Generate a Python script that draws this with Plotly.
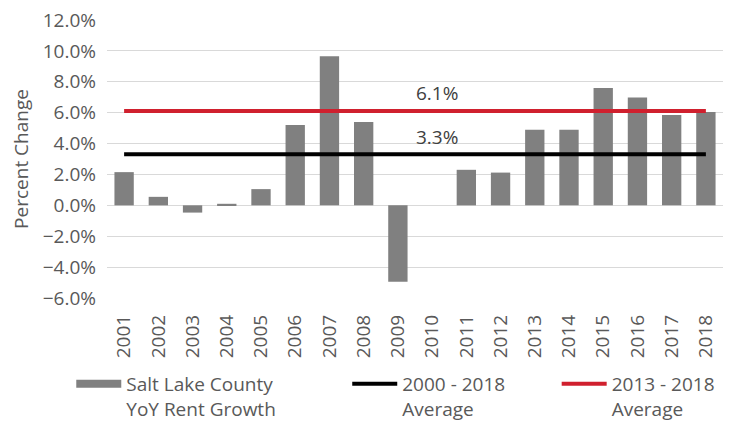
"""Salt Lake County year-over-year rent growth with two period averages."""

import plotly.graph_objects as go

YEARS = [str(y) for y in range(2001, 2019)]
RENT_GROWTH = [2.15, 0.55, -0.47, 0.1, 1.05, 5.2, 9.65, 5.4, -4.95, 0.0,
               2.3, 2.12, 4.9, 4.9, 7.6, 6.98, 5.85, 6.05]
AVG_2000_2018 = 3.3
AVG_2013_2018 = 6.1

BAR_COLOR = "#808080"
RED = "#d0202e"
TEXT = "#595959"
FONT = "Open Sans"

fig = go.Figure()

fig.add_trace(go.Bar(
    x=YEARS, y=RENT_GROWTH, marker=dict(color=BAR_COLOR, line=dict(width=0)),
    showlegend=False, hoverinfo="x+y",
))
fig.add_trace(go.Scatter(
    x=YEARS, y=[AVG_2000_2018] * len(YEARS), mode="lines",
    line=dict(color="black", width=4), name="2000 - 2018<br>Average",
    legend="legend2",
))
fig.add_trace(go.Scatter(
    x=YEARS, y=[AVG_2013_2018] * len(YEARS), mode="lines",
    line=dict(color=RED, width=4), name="2013 - 2018<br>Average",
    legend="legend3",
))
# legend-only entry so the bar key is drawn as a wide block like the original
fig.add_trace(go.Scatter(
    x=[None], y=[None], mode="lines", line=dict(color=BAR_COLOR, width=8),
    name="Salt Lake County<br>YoY Rent Growth", legend="legend",
))

for val, shift in ((AVG_2013_2018, 18), (AVG_2000_2018, 17)):
    fig.add_annotation(
        x=9.15, y=val, text=f"{val:.1f}%", showarrow=False,
        yshift=shift, font=dict(family=FONT, size=19, color="#404040"),
    )

legend_common = dict(
    orientation="v", yref="container", yanchor="top", y=0.142,
    xanchor="left", valign="top", itemwidth=45, bgcolor="rgba(0,0,0,0)",
    font=dict(family=FONT, size=19, color=TEXT),
)

# the page body adds an 8px margin, so the figure is 8px smaller each way
fig.update_layout(
    width=733, height=416,
    margin=dict(l=99, r=18, t=12, b=126, autoexpand=False),
    paper_bgcolor="white", plot_bgcolor="white",
    font=dict(family=FONT, size=19, color=TEXT),
    bargap=0.435,
    legend=dict(x=-0.058, **legend_common),
    legend2=dict(x=0.39, **legend_common),
    legend3=dict(x=0.73, **legend_common),
    xaxis=dict(
        type="category", tickangle=-90, showgrid=False, zeroline=False,
        automargin=False, ticklabelstandoff=12,
        tickfont=dict(size=19, color=TEXT),
    ),
    yaxis=dict(
        range=[-6, 12], dtick=2, tickformat=".1f", ticksuffix="%",
        showgrid=True, gridcolor="#d9d9d9", gridwidth=1, zeroline=False,
        automargin=False, ticklabelstandoff=10, ticklabeloverflow="allow",
        tickfont=dict(size=19, color=TEXT),
        title=dict(text="Percent Change", standoff=10,
                   font=dict(size=19, color=TEXT)),
    ),
)

fig.write_html("out.html")
